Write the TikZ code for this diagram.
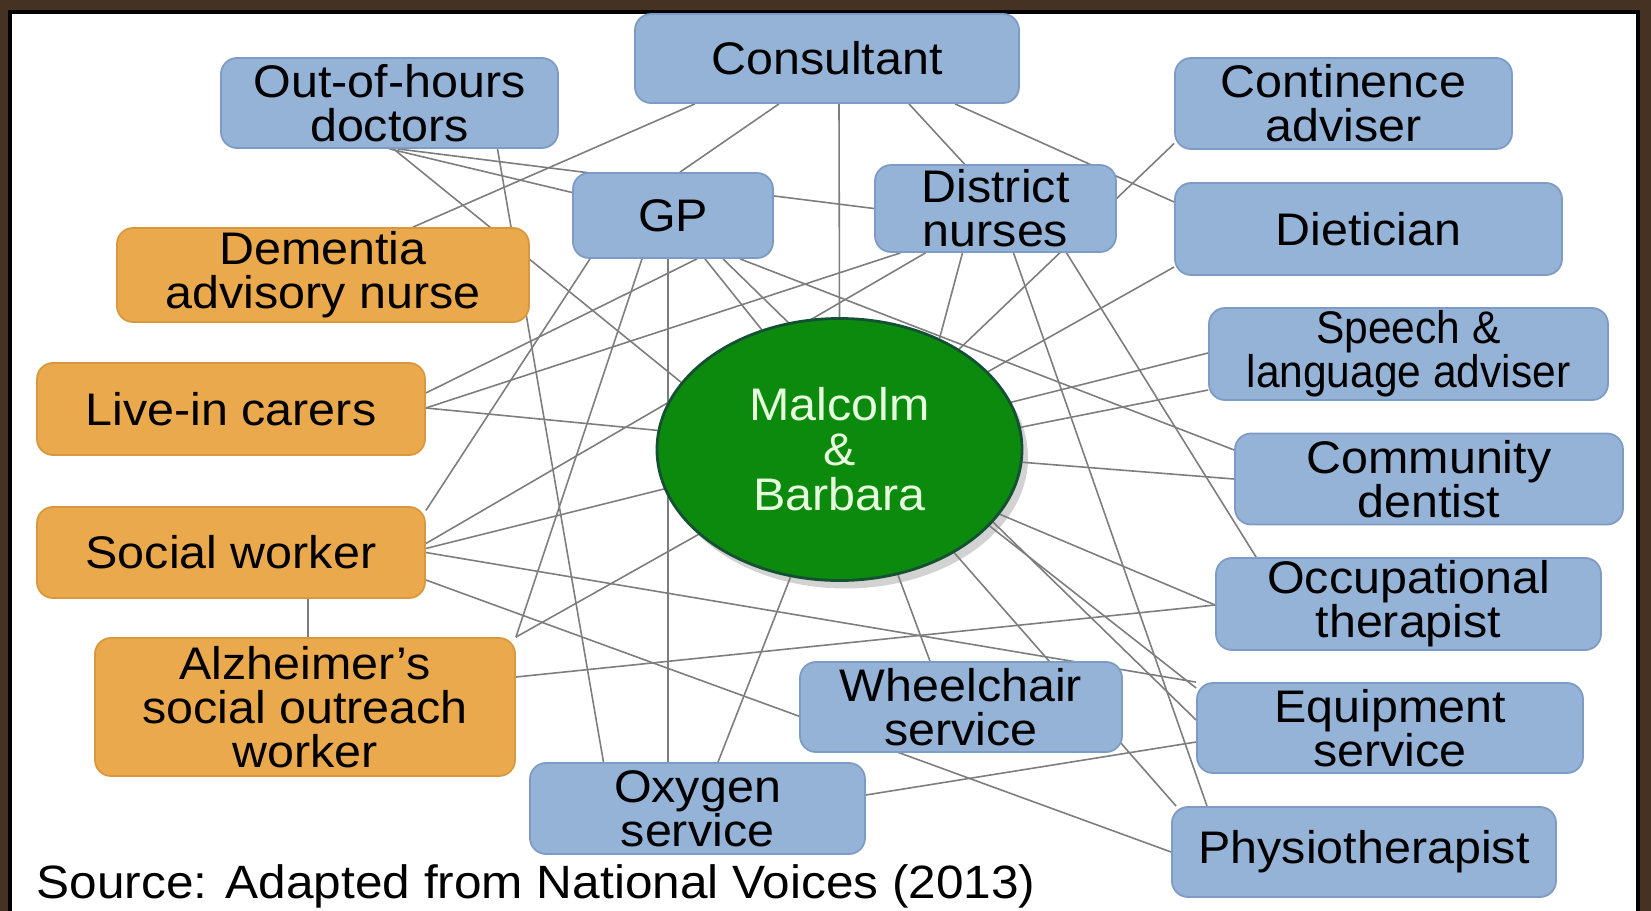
\documentclass[tikz,border=0pt]{standalone}
\usepackage{fontspec}
\setmainfont{Liberation Sans}[FakeStretch=1.06]
\usepackage{tikz}
\usetikzlibrary{calc}
\usetikzlibrary{backgrounds,shapes.geometric,shadows}
\definecolor{boxblue}{RGB}{149,179,215}
\definecolor{boxblueline}{RGB}{125,155,196}
\definecolor{carerorange}{RGB}{234,169,77}
\definecolor{carerline}{RGB}{218,152,62}
\definecolor{couplegreen}{RGB}{12,138,14}
\definecolor{coupleedge}{RGB}{20,80,50}
\definecolor{couplename}{RGB}{230,255,220}
\definecolor{linkgray}{RGB}{125,125,125}
\definecolor{framedark}{RGB}{70,50,35}

\begin{document}
\begin{tikzpicture}[x=0.1mm, y=-0.1mm]
      \tikzstyle{box}=[rectangle,rounded corners=1.6mm,draw=boxblueline,fill=boxblue,align=center,inner sep=0pt,line width=0.5pt,font=\fontsize{13}{12.6}\selectfont]
      \tikzstyle{carer}=[box,draw=carerline,fill=carerorange]
      \tikzstyle{link}=[draw=linkgray,line width=0.45pt]
      \useasboundingbox (0,0) rectangle (1651,911);

      % services round the couple
      \node[box,minimum width=38.4mm,minimum height=8.9mm] (cons) at (827,58.5) {Consultant};
      \node[box,minimum width=33.7mm,minimum height=9mm] (ooh) at (389.5,103) {Out-of-hours\\doctors};
      \node[box,minimum width=33.7mm,minimum height=9.1mm] (cont) at (1343.5,103.5) {Continence\\adviser};
      \node[box,minimum width=20mm,minimum height=8.5mm] (gp) at (673,215.5) {GP};
      \node[box,minimum width=24.1mm,minimum height=8.7mm] (dn) at (995.5,208.5) {District\\nurses};
      \node[box,minimum width=38.7mm,minimum height=9.2mm] (diet) at (1368.5,229) {Dietician};
      \node[carer,minimum width=41.2mm,minimum height=9.4mm] (dem) at (323,275) {Dementia\\advisory nurse};
      \node[box,minimum width=39.9mm,minimum height=9.2mm,font=\fontsize{13}{12.6}\selectfont\addfontfeatures{FakeStretch=0.93}] (speech) at (1408.5,354) {Speech \&\\language adviser};
      \node[carer,minimum width=38.8mm,minimum height=9.2mm] (live) at (231,409) {Live-in carers};
      \node[box,minimum width=38.8mm,minimum height=9.1mm] (dent) at (1429,479) {Community\\dentist};
      \node[carer,minimum width=38.8mm,minimum height=9.1mm] (sw) at (231,552.5) {Social worker};
      \node[box,minimum width=38.5mm,minimum height=9.2mm] (occ) at (1408.5,604) {Occupational\\therapist};
      \node[carer,minimum width=42mm,minimum height=13.8mm] (alz) at (305,707) {Alzheimer’s\\social outreach\\worker};
      \node[box,minimum width=32.2mm,minimum height=9mm] (wc) at (961,707) {Wheelchair\\service};
      \node[box,minimum width=38.6mm,minimum height=9mm] (equip) at (1390,728) {Equipment\\service};
      \node[box,minimum width=33.5mm,minimum height=9.1mm] (oxy) at (697.5,808.5) {Oxygen\\service};
      \node[box,minimum width=38.4mm,minimum height=9mm] (physio) at (1364,852) {Physiotherapist};

      % the couple
      \node[ellipse,minimum width=36.5mm,minimum height=26.2mm,inner sep=0pt,fill=couplegreen,draw=coupleedge,line width=0.8pt,text=couplename,align=center,font=\fontsize{13}{12.8}\selectfont,drop shadow={opacity=0.35,shadow xshift=0.6mm,shadow yshift=-0.8mm}] (mb) at (839.5,449.5) {Malcolm\\\&\\Barbara};

      \node[anchor=base west,inner sep=0pt,font=\fontsize{13.3}{15}\selectfont] (src) at (36,898) {Source: Adapted from National Voices (2013)};

      \begin{scope}[on background layer]
        % frame
        \fill[framedark] (0,0) rectangle (1651,911);
        \fill[white] (10,12) rectangle (1638,911);
        \draw[black,line width=1.2pt] (10,911) -- (10,12) -- (1638,12) -- (1638,911);

        % links
        \draw[link] ($(cons.south)+(-132,0)$) -- ($(dem.north)+(90,0)$);
        \draw[link] ($(cons.south)+(-48,0)$) -- ($(gp.north)+(7,0)$);
        \draw[link] ($(cons.south)+(12,0)$) -- (mb.north);
        \draw[link] ($(cons.south)+(82,0)$) -- ($(dn.north)+(-31,0)$);
        \draw[link] ($(cons.south)+(128,0)$) -- ($(diet.west)+(0,-27)$);
        \draw[link] (ooh.south) -- ($(gp.west)+(0,-23)$);
        \draw[link] ($(ooh.south)+(8,0)$) -- (dn.west);
        \draw[link] ($(ooh.south)+(4,0)$) -- (mb.157);
        \draw[link] ($(ooh.south)+(108,0)$) -- ($(oxy.north)+(-94,0)$);
        \draw[link] ($(gp.south)+(-83,0)$) -- ($(sw.east)+(0,-42)$);
        \draw[link] ($(gp.south)+(-31,0)$) -- (alz.north east);
        \draw[link] ($(gp.south)+(-5,0)$) -- ($(oxy.north)+(-29.5,0)$);
        \draw[link] ($(gp.south)+(24,0)$) -- ($(live.east)+(0,-16)$);
        \draw[link] ($(gp.south)+(32,0)$) -- (mb.123);
        \draw[link] ($(gp.south)+(50,0)$) -- ($(equip.west)+(0,-8)$);
        \draw[link] ($(gp.south)+(67,0)$) -- ($(dent.west)+(0,-29)$);
        \draw[link] ($(dn.south)+(-95,0)$) -- ($(live.east)+(0,-1)$);
        \draw[link] ($(dn.south)+(-70,0)$) -- ($(sw.east)+(0,-9)$);
        \draw[link] ($(dn.south)+(-33,0)$) -- (mb.48);
        \draw[link] ($(dn.south)+(18,0)$) -- ($(physio.north)+(-157,0)$);
        \draw[link] ($(dn.south)+(71,0)$) -- ($(occ.north west)+(41,0)$);
        \draw[link] ($(cont.west)+(0,40)$) -- (mb.40);
        \draw[link] ($(diet.west)+(0,38)$) -- (alz.north east);
        \draw[link] ($(speech.west)+(0,-1)$) -- ($(sw.east)+(0,-4)$);
        \draw[link] ($(speech.west)+(0,36)$) -- (mb.7);
        \draw[link] (mb.174) -- ($(live.east)+(0,-1)$);
        \draw[link] (mb.-4) -- (dent.west);
        \draw[link] (mb.-22) -- ($(occ.west)+(0,1)$);
        \draw[link] (mb.-27) -- ($(equip.west)+(0,-40)$);
        \draw[link] (mb.-42) -- ($(physio.north west)+(5,0)$);
        \draw[link] (mb.-65) -- ($(wc.north)+(-31,0)$);
        \draw[link] (mb.-111) -- ($(oxy.north)+(20.5,0)$);
        \draw[link] ($(alz.east)+(0,-30)$) -- ($(occ.west)+(0,1)$);
        \draw[link] (sw.east) -- (equip.north west);
        \draw[link] ($(sw.east)+(0,27.5)$) -- (physio.west);
        \draw[link] ($(sw.south)+(77,0)$) -- ($(alz.north)+(3,0)$);
        \draw[link] ($(oxy.east)+(0,-13.5)$) -- ($(equip.west)+(0,14)$);
      \end{scope}
    \end{tikzpicture}
\end{document}
